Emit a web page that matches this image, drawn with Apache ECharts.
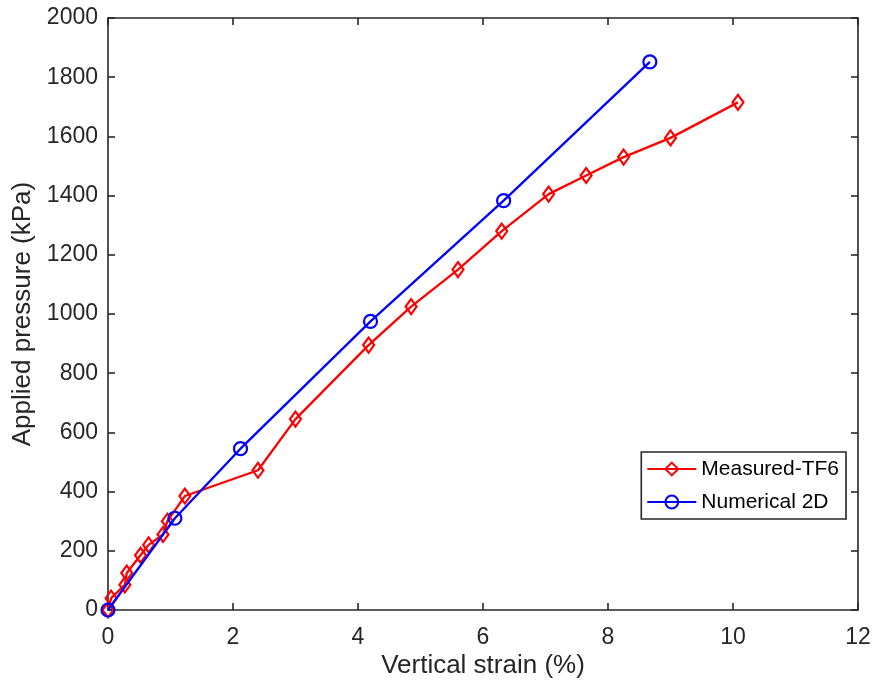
<!DOCTYPE html>
<html><head><meta charset="utf-8">
<script src="https://cdn.jsdelivr.net/npm/echarts@6/dist/echarts.min.js"></script>
<style>html,body{margin:0;padding:0;background:#fff}#c{width:879px;height:687px}</style>
</head><body><div id="c"></div>
<script>
var measuredX = [0, 0.05, 0.27, 0.3, 0.52, 0.65, 0.88, 0.95, 1.23, 2.4, 3.0, 4.17, 4.85, 5.6, 6.3, 7.05, 7.65, 8.25, 9.0, 10.08];
var measuredY = [0, 40, 85, 125, 185, 220, 255, 300, 385, 472, 645, 895, 1025, 1150, 1280, 1405, 1468, 1530, 1595, 1715];
var numericalX = [0, 1.07, 2.12, 4.2, 6.33, 8.67];
var numericalY = [0, 310, 545, 975, 1383, 1852];
var xTicks = [0, 2, 4, 6, 8, 10, 12];
var yTicks = [0, 200, 400, 600, 800, 1000, 1200, 1400, 1600, 1800, 2000];

function pairs(xs, ys){ return xs.map(function(x,i){ return [x, ys[i]]; }); }
var F = "'Liberation Sans', Arial, sans-serif";
var chart = echarts.init(document.getElementById('c'));
var axLine = {show:true, onZero:false, lineStyle:{color:'#262626', width:1.6}};
var tick = {show:true, inside:true, length:7, lineStyle:{color:'#262626', width:1.6}};
var fmt = function(v){ return String(v); };
chart.setOption({
  animation:false,
  backgroundColor:'#fff',
  grid:{left:108, right:21, top:18, bottom:77},
  xAxis:[{type:'value', min:xTicks[0], max:xTicks[xTicks.length-1], interval:2, position:'bottom',
    name:'Vertical strain (%)', nameLocation:'middle', nameGap:43, nameMoveOverlap:false,
    nameTextStyle:{fontFamily:F, fontSize:26, color:'#262626', verticalAlign:'top'},
    axisLine:axLine, axisTick:tick, splitLine:{show:false},
    axisLabel:{fontFamily:F, fontSize:23, color:'#262626', margin:16, formatter:fmt}},
   {type:'value', min:0, max:12, interval:2, position:'top', axisLine:axLine, axisTick:tick, axisLabel:{show:false}, splitLine:{show:false}}],
  yAxis:[{type:'value', min:yTicks[0], max:yTicks[yTicks.length-1], interval:200, position:'left',
    name:'Applied pressure (kPa)', nameLocation:'middle', nameGap:72, nameRotate:90, nameMoveOverlap:false,
    nameTextStyle:{fontFamily:F, fontSize:26, color:'#262626'},
    axisLine:axLine, axisTick:tick, splitLine:{show:false},
    axisLabel:{fontFamily:F, fontSize:23, color:'#262626', margin:10, formatter:fmt}},
   {type:'value', min:0, max:2000, interval:200, position:'right', axisLine:axLine, axisTick:tick, axisLabel:{show:false}, splitLine:{show:false}}],
  legend:{show:true, orient:'vertical', right:33, top:452, itemWidth:49, itemHeight:16, itemGap:9,
    backgroundColor:'#fff', borderColor:'#262626', borderWidth:1.6, padding:[5,7,5,5],
    textStyle:{fontFamily:F, fontSize:21, color:'#000', lineHeight:24},
    data:['Measured-TF6','Numerical 2D']},
  series:[
    {name:'Measured-TF6', type:'line', data:pairs(measuredX, measuredY), symbol:'diamond', symbolSize:[11,15],
      lineStyle:{color:'#ff0000', width:2.3}, itemStyle:{color:'rgba(255,255,255,0)', borderColor:'#ff0000', borderWidth:2.2}, z:2},
    {name:'Numerical 2D', type:'line', data:pairs(numericalX, numericalY), symbol:'circle', symbolSize:13,
      lineStyle:{color:'#0000ff', width:2.3}, itemStyle:{color:'rgba(255,255,255,0)', borderColor:'#0000ff', borderWidth:2.2}, z:3}
  ]
});
</script></body></html>
